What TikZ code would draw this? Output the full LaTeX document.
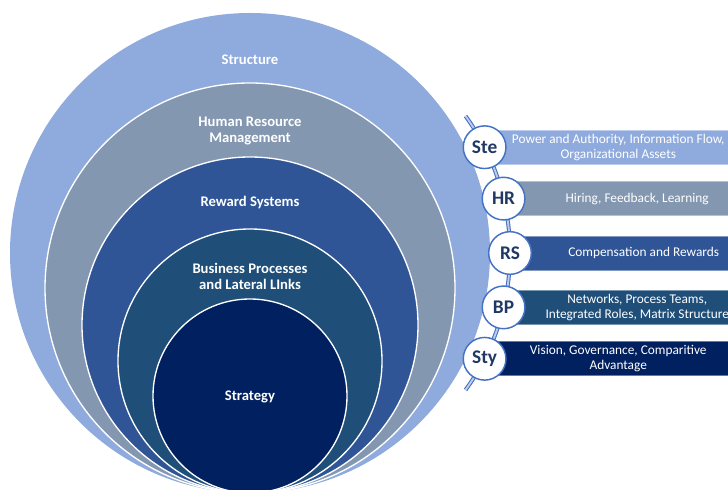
\documentclass[tikz,border=0pt]{standalone}
\usepackage{fontspec}
\setmainfont{Carlito}
\usepackage{xcolor}
\usepackage{tikz}
\usetikzlibrary{positioning}
\definecolor{stecol}{HTML}{8FAADC}
\definecolor{hrcol}{HTML}{8497B0}
\definecolor{rscol}{HTML}{2F5597}
\definecolor{bpcol}{HTML}{1F4E79}
\definecolor{stycol}{HTML}{002060}
\definecolor{tagline}{HTML}{4472C4}
\definecolor{tagtext}{HTML}{1F3864}
\tikzset{
  ring/.style={draw=white, line width=1pt},
  ringlabel/.style={align=center, text=white, font=\fontsize{11}{12}\selectfont\bfseries},
  tag/.style={circle, draw=tagline, line width=1.1pt, fill=white, minimum size=32pt, inner sep=0pt, text=tagtext, font=\fontsize{14.5}{16}\selectfont\bfseries},
  bar/.style={rectangle, draw=#1!60!white, fill=#1, line width=0.5pt, anchor=west, minimum width=200pt, minimum height=25.5pt, inner sep=0pt, align=center, text=white, font=\fontsize{10}{11.5}\selectfont},
  link/.style={draw=tagline, double=stecol!60!white, double distance=1.4pt, line width=0.8pt}
}
\begin{document}
\begin{tikzpicture}[x=0.75pt, y=0.75pt]
  \useasboundingbox (0,0) rectangle (728,489);
  % nested rings, all touching at the bottom
  \fill[stecol] (250,236) circle (240);
  \draw[ring, fill=hrcol] (250,201) circle (205);
  \draw[ring, fill=rscol] (250,164) circle (168);
  \draw[ring, fill=bpcol] (250,128) circle (132);
  \draw[ring, fill=stycol] (250,93) circle (97);
  \node[ringlabel] (structure) at (250,429) {Structure};
  \node[ringlabel] (hrm) at (250,358) {Human Resource\\Management};
  \node[ringlabel] (reward) at (250,286) {Reward Systems};
  \node[ringlabel] (business) at (250,213) {Business Processes\\and Lateral LInks};
  \node[ringlabel] (strategy) at (250,92) {Strategy};
  % chain on the right
  \coordinate (hub) at (277,236);
  \draw[link] ([shift={(36:233)}]hub) arc[start angle=36, end angle=-36, radius=233];
  \coordinate (pste) at ([shift={(27:233)}]hub);
  \coordinate (phr) at ([shift={(13.5:233)}]hub);
  \coordinate (prs) at ([shift={(0:233)}]hub);
  \coordinate (pbp) at ([shift={(-13.5:233)}]hub);
  \coordinate (psty) at ([shift={(-27:233)}]hub);
  \node[bar=stecol] (stebar) at (pste) {Power and Authority, Information Flow,\\Organizational Assets};
  \node[bar=hrcol] (hrbar) at (phr) {Hiring, Feedback, Learning};
  \node[bar=rscol] (rsbar) at (prs) {Compensation and Rewards};
  \node[bar=bpcol] (bpbar) at (pbp) {Networks, Process Teams,\\Integrated Roles, Matrix Structure};
  \node[bar=stycol] (stybar) at (psty) {Vision, Governance, Comparitive\\Advantage};
  \node[tag] (ste) at (pste) {Ste};
  \node[tag] (hr) at (phr) {HR};
  \node[tag] (rs) at (prs) {RS};
  \node[tag] (bp) at (pbp) {BP};
  \node[tag] (sty) at (psty) {Sty};
\end{tikzpicture}
\end{document}
